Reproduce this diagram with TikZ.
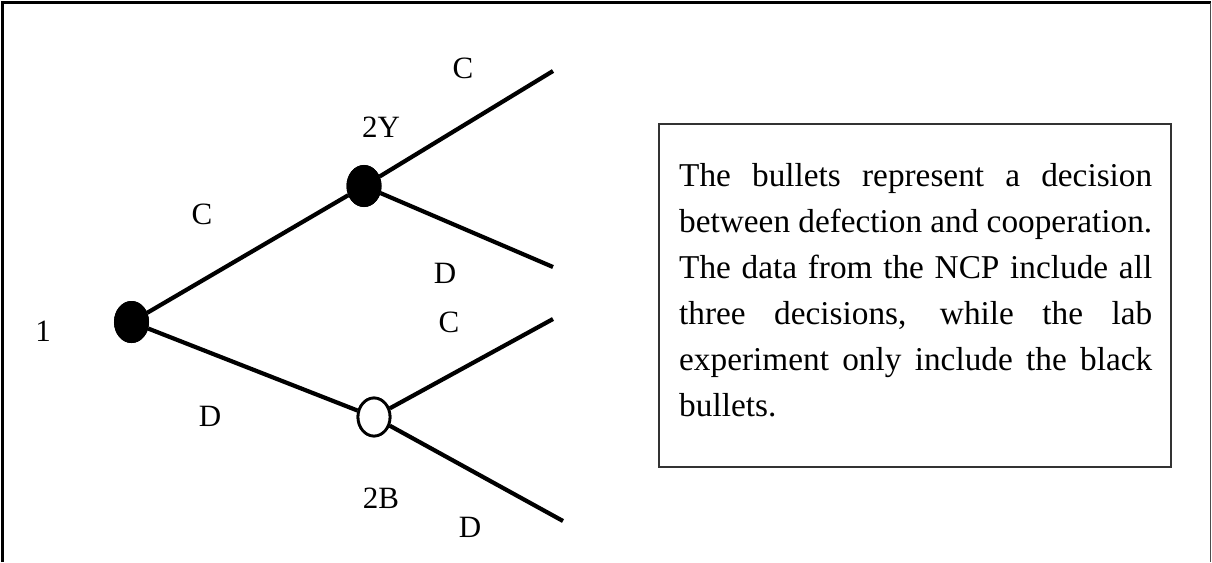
\documentclass[tikz,border=0pt]{standalone}
\usepackage{fontspec}
\setmainfont{Liberation Serif}
\usetikzlibrary{shapes.geometric}
\hyphenpenalty=10000
\exhyphenpenalty=10000
\tolerance=10000
\begin{document}
\begin{tikzpicture}[x=1pt,y=-1pt,
  branch/.style={line width=4.2pt},
  fullbullet/.style={ellipse,fill=black,draw=black,line width=1pt,minimum width=34pt,minimum height=41pt,inner sep=0pt},
  openbullet/.style={ellipse,fill=white,draw=black,line width=2.8pt,minimum width=32pt,minimum height=38pt,inner sep=0pt},
  lbl/.style={font=\fontsize{31}{31}\selectfont,inner sep=0pt,anchor=base},
  notetext/.style={anchor=base west,inner sep=0pt,text width=473pt,align=justify,font=\fontsize{33.3}{46}\selectfont}]
\useasboundingbox (0,0) rectangle (1212,562);
% outer frame
\draw[line width=3pt] (2.5,562) -- (2.5,2.5) -- (1211,2.5);
\draw[line width=1.2pt,black!70] (1210.5,2.5) -- (1210.5,562);
% nodes
\node[fullbullet] (n1) at (131.5,322) {};
\node[fullbullet] (n2y) at (364,186) {};
\node[openbullet] (n2b) at (374,417) {};
\coordinate (yc) at (553,71);
\coordinate (yd) at (553,267);
\coordinate (bc) at (553,319);
\coordinate (bd) at (563,521);
% branches
\draw[branch] (n1) -- (n2y);
\draw[branch] (n1) -- (n2b);
\draw[branch] (n2y) -- (yc);
\draw[branch] (n2y) -- (yd);
\draw[branch] (n2b) -- (bc);
\draw[branch] (n2b) -- (bd);
% redraw bullets on top
\node[fullbullet] at (n1) {};
\node[fullbullet] at (n2y) {};
\node[openbullet] at (n2b) {};
% labels
\node[lbl] (l1) at (43,341) {1};
\node[lbl] (lc1) at (202,224) {C};
\node[lbl] (ld1) at (210,426) {D};
\node[lbl] (l2y) at (381,137) {2Y};
\node[lbl] (lyc) at (463,78) {C};
\node[lbl] (lyd) at (445,283) {D};
\node[lbl] (lbc) at (449,332) {C};
\node[lbl] (l2b) at (381,508) {2B};
\node[lbl] (lbd) at (470,537) {D};
% note box
\draw[line width=1.3pt,black!80] (659,124) rectangle (1171,467);
\node[notetext] (note) at (679,186)
  {\hyphenpenalty=10000 \exhyphenpenalty=10000 \tolerance=10000
   The bullets represent a decision\linebreak between defection and cooperation.\linebreak The data from the NCP include all\linebreak three decisions, while the lab\linebreak experiment only include the black\linebreak bullets.\par};
\end{tikzpicture}
\end{document}
